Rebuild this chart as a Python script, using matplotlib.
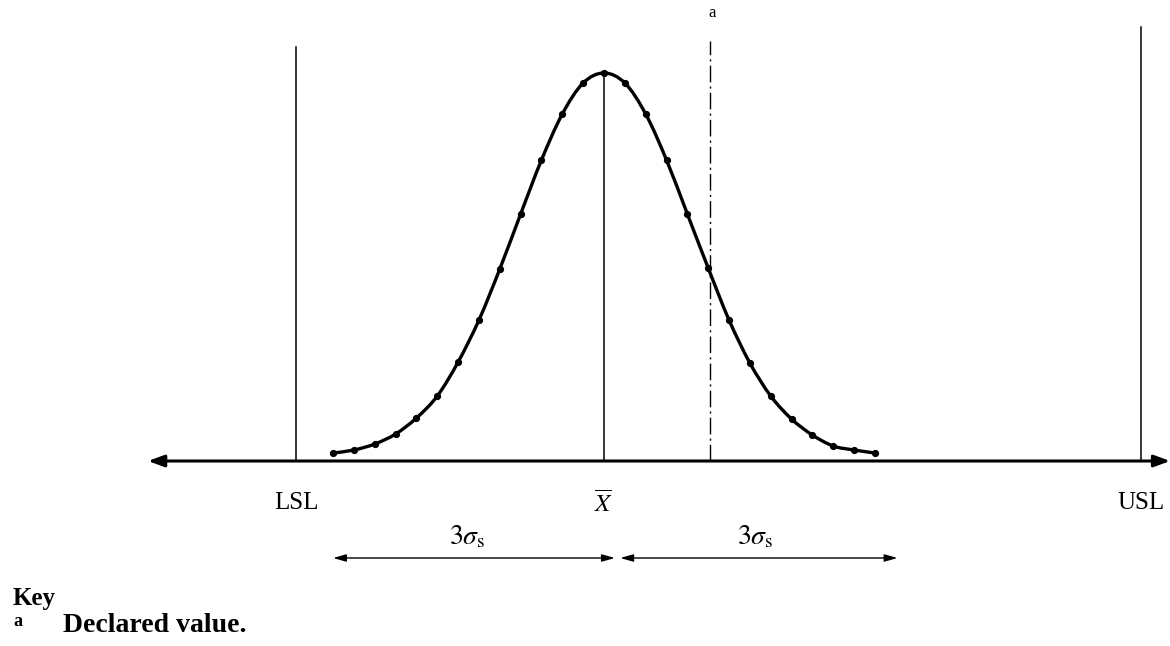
"""
Process capability sketch: normal curve between LSL and USL
"""

import matplotlib.pyplot as plt
from matplotlib.path import Path
from matplotlib.patches import PathPatch

# curve points, x in sigma units from the mean, height
curve_x = [i * 3 / 13 for i in range(-13, 14)]
curve_y = [8, 11, 17, 27, 43, 65, 99, 141, 192, 247, 301, 347, 378, 388,
           378, 347, 301, 247, 193, 141, 98, 65, 42, 26, 15, 11, 8]

# reference lines (x in sigma units, top height)
lsl_x, lsl_top = -3.41, 414
usl_x, usl_top = 5.95, 434
declared_x, declared_top = 1.17, 420
axis_left, axis_right = -5.05, 6.27

labels = ['LSL', r'$\overline{X}$', 'USL']
label_x = [lsl_x, 0.0, usl_x]
sigma_label = r'$3\sigma_\mathrm{s}$'


def smooth_path(xs, ys):
    """Catmull-Rom through the points, as cubic Bezier segments"""
    pts = list(zip(xs, ys))
    n = len(pts)
    verts = [pts[0]]
    codes = [Path.MOVETO]
    for i in range(n - 1):
        p0 = pts[max(i - 1, 0)]
        p1 = pts[i]
        p2 = pts[i + 1]
        p3 = pts[min(i + 2, n - 1)]
        c1 = (p1[0] + (p2[0] - p0[0]) / 6, p1[1] + (p2[1] - p0[1]) / 6)
        c2 = (p2[0] - (p3[0] - p1[0]) / 6, p2[1] - (p3[1] - p1[1]) / 6)
        verts += [c1, c2, p2]
        codes += [Path.CURVE4] * 3
    return Path(verts, codes)


plt.rcParams['font.family'] = 'Liberation Serif'
plt.rcParams['mathtext.fontset'] = 'stix'

fig = plt.figure(figsize=(11.7, 6.46), dpi=100)
ax = fig.add_axes([0, 0, 1, 1])
ax.set_xlim(-604 / 90.3, (1170 - 604) / 90.3)
ax.set_ylim(-185, 461)
ax.axis('off')

# horizontal axis with arrows at both ends
ax.annotate('', xy=(axis_left, 0), xytext=(axis_right, 0),
            arrowprops=dict(arrowstyle='<|-|>,head_length=0.6,head_width=0.22',
                            color='black', lw=2.2, mutation_scale=16,
                            shrinkA=0, shrinkB=0))

# vertical limit lines
ax.plot([lsl_x, lsl_x], [0, lsl_top], color='black', lw=1.1)
ax.plot([usl_x, usl_x], [0, usl_top], color='black', lw=1.1)
ax.plot([0, 0], [0, max(curve_y)], color='black', lw=1.1)
ax.plot([declared_x, declared_x], [0, declared_top], color='black', lw=1.0,
        linestyle=(0, (12, 3, 1.5, 3)))
ax.text(declared_x + 0.03, declared_top + 20, 'a', ha='center', va='bottom',
        fontsize=12)

# the curve
ax.add_patch(PathPatch(smooth_path(curve_x, curve_y), facecolor='none',
                       edgecolor='black', lw=2.4, capstyle='round'))
ax.plot(curve_x, curve_y, linestyle='none', color='black', marker='o',
        markersize=4.2)

# labels under the axis
for x, lab in zip(label_x, labels):
    ax.text(x, -42, lab, ha='center', va='center', fontsize=18)

# 3 sigma spans
span_style = '<|-|>,head_length=0.7,head_width=0.2'
ax.annotate('', xy=(-3, -97), xytext=(0.12, -97),
            arrowprops=dict(arrowstyle=span_style, color='black', lw=1.0,
                            mutation_scale=11, shrinkA=0, shrinkB=0))
ax.annotate('', xy=(0.18, -97), xytext=(3.25, -97),
            arrowprops=dict(arrowstyle=span_style, color='black', lw=1.0,
                            mutation_scale=11, shrinkA=0, shrinkB=0))
ax.text(-1.51, -76, sigma_label, ha='center', va='center', fontsize=20)
ax.text(1.67, -76, sigma_label, ha='center', va='center', fontsize=20)

# key
fig.text(13 / 1170, 1 - 598 / 646, 'Key', ha='left', va='center',
         fontsize=18, fontweight='bold')
fig.text(13 / 1170, 1 - 622 / 646, 'a', ha='left', va='center',
         fontsize=13, fontweight='bold')
fig.text(63 / 1170, 1 - 625 / 646, 'Declared value.', ha='left', va='center',
         fontsize=20, fontweight='bold')

plt.savefig('out.png', dpi=100)
